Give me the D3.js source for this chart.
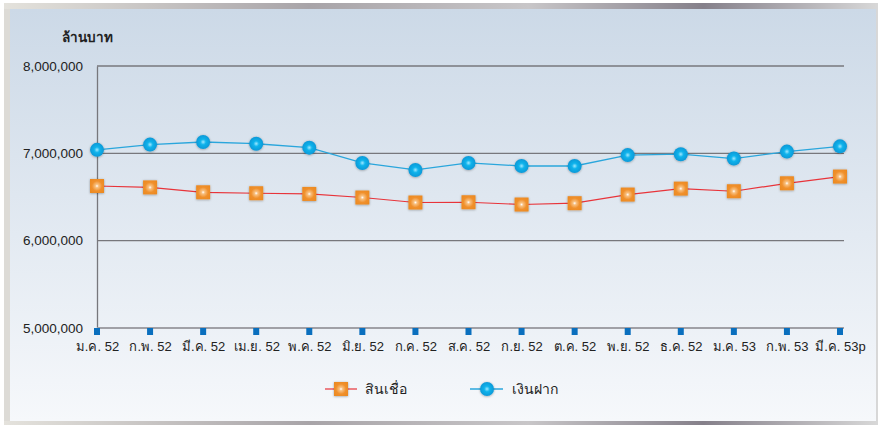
<!DOCTYPE html>
<html>
<head>
<meta charset="utf-8">
<script src="https://cdn.jsdelivr.net/npm/d3@7"></script>
<style>
  body { margin: 0; background: #fff; }
  text { font-family: "Liberation Sans", "Noto Sans", sans-serif; fill: #222; }
</style>
</head>
<body>
<div id="chart"></div>
<script>
var months = ["ม.ค. 52", "ก.พ. 52", "มี.ค. 52", "เม.ย. 52", "พ.ค. 52", "มิ.ย. 52", "ก.ค. 52",
  "ส.ค. 52", "ก.ย. 52", "ต.ค. 52", "พ.ย. 52", "ธ.ค. 52", "ม.ค. 53", "ก.พ. 53", "มี.ค. 53p"];
var credit = [6626000, 6610000, 6554000, 6543000, 6535000, 6494000, 6437000, 6440000,
  6414000, 6429000, 6528000, 6596000, 6566000, 6657000, 6734000];
var deposit = [7040000, 7100000, 7130000, 7110000, 7065000, 6890000, 6810000, 6890000,
  6855000, 6855000, 6980000, 6990000, 6940000, 7020000, 7080000];
var yTicks = [5000000, 6000000, 7000000, 8000000];
var seriesNames = ["สินเชื่อ", "เงินฝาก"];

var W = 878, H = 425;
var margin = {top: 66, left: 97, right: 34, bottom: 97};
var width = W - margin.left - margin.right,
    height = H - margin.top - margin.bottom;

var svg = d3.select("#chart").append("svg")
    .attr("width", W)
    .attr("height", H);

var defs = svg.append("defs");

var frameGrad = defs.append("linearGradient").attr("id", "frame");
frameGrad.append("stop").attr("offset", "0%").attr("stop-color", "#e4e2dc");
frameGrad.append("stop").attr("offset", "35%").attr("stop-color", "#a8a4a8");
frameGrad.append("stop").attr("offset", "60%").attr("stop-color", "#c8c6c8");
frameGrad.append("stop").attr("offset", "80%").attr("stop-color", "#85808a");
frameGrad.append("stop").attr("offset", "100%").attr("stop-color", "#d8d8d8");

var bgGrad = defs.append("linearGradient").attr("id", "bg")
    .attr("x1", 0).attr("y1", 0).attr("x2", 0).attr("y2", 1);
bgGrad.append("stop").attr("offset", "0%").attr("stop-color", "#ccd9e7");
bgGrad.append("stop").attr("offset", "100%").attr("stop-color", "#f6f8fb");

var dotGrad = defs.append("radialGradient").attr("id", "dot")
    .attr("cx", "50%").attr("cy", "50%").attr("r", "55%");
dotGrad.append("stop").attr("offset", "0%").attr("stop-color", "#9fe8ff");
dotGrad.append("stop").attr("offset", "35%").attr("stop-color", "#12b4ec");
dotGrad.append("stop").attr("offset", "100%").attr("stop-color", "#0a94d4");

var sqGrad = defs.append("radialGradient").attr("id", "sq")
    .attr("cx", "50%").attr("cy", "50%").attr("r", "60%");
sqGrad.append("stop").attr("offset", "0%").attr("stop-color", "#ffffff");
sqGrad.append("stop").attr("offset", "20%").attr("stop-color", "#f8c080");
sqGrad.append("stop").attr("offset", "60%").attr("stop-color", "#f0902c");
sqGrad.append("stop").attr("offset", "100%").attr("stop-color", "#ec8a22");

var shadow = defs.append("filter").attr("id", "shadow")
    .attr("x", "-50%").attr("y", "-50%").attr("width", "200%").attr("height", "200%");
shadow.append("feDropShadow").attr("dx", 0).attr("dy", 0.5)
    .attr("stdDeviation", 1.2).attr("flood-color", "#000").attr("flood-opacity", 0.35);

// frame and panel
svg.append("rect").attr("x", 4).attr("y", 3).attr("width", 874).attr("height", 422)
    .attr("fill", "url(#frame)");
svg.append("rect").attr("x", 4).attr("y", 9).attr("width", 6).attr("height", 412)
    .attr("fill", "#dddbd6");
svg.append("rect").attr("x", 10).attr("y", 9).attr("width", 866).attr("height", 412)
    .attr("fill", "url(#bg)");

var g = svg.append("g")
    .attr("transform", "translate(" + margin.left + "," + margin.top + ")");

var x = d3.scalePoint().domain(months).range([0, 743]);
var y = d3.scaleLinear().domain([5000000, 8000000]).range([height, 0]);

// gridlines
g.append("g").selectAll("line")
    .data(yTicks.slice(1))
  .enter().append("line")
    .attr("x1", 0).attr("x2", 747)
    .attr("y1", function(d) { return y(d); })
    .attr("y2", function(d) { return y(d); })
    .attr("stroke", "#77777c").attr("stroke-width", 1.3);

// y axis
var yAxis = d3.axisLeft(y).tickValues(yTicks).tickSize(0).tickPadding(14)
    .tickFormat(d3.format(",")).tickSizeOuter(0);
var ya = g.append("g").call(yAxis);
ya.select(".domain").attr("stroke", "#77777c").attr("stroke-width", 1.3);
ya.selectAll("text").style("font-size", "13.5px").attr("fill", "#222");

// x axis baseline
g.append("line").attr("x1", 0).attr("x2", 747)
    .attr("y1", height).attr("y2", height)
    .attr("stroke", "#a0a0a6").attr("stroke-width", 2);

var xAxis = d3.axisBottom(x).tickSize(0).tickPadding(14).tickSizeOuter(0);
var xa = g.append("g").attr("transform", "translate(0," + height + ")").call(xAxis);
xa.select(".domain").remove();
xa.selectAll("text").style("font-size", "13px").attr("fill", "#222");

// tick marks as blue squares
g.append("g").selectAll("rect")
    .data(months)
  .enter().append("rect")
    .attr("x", function(d) { return x(d) - 3; })
    .attr("y", height)
    .attr("width", 6).attr("height", 7)
    .attr("fill", "#0a6fbe");

// y label
svg.append("text").attr("x", 62).attr("y", 42)
    .style("font-size", "13.5px").style("font-weight", "bold")
    .text("ล้านบาท");

var line = d3.line()
    .x(function(d, i) { return x(months[i]); })
    .y(function(d) { return y(d); });

g.append("path").datum(credit).attr("d", line)
    .attr("fill", "none").attr("stroke", "#e8343a").attr("stroke-width", 1.2);
g.append("path").datum(deposit).attr("d", line)
    .attr("fill", "none").attr("stroke", "#2aa6dc").attr("stroke-width", 1.3);

g.append("g").selectAll("rect")
    .data(credit)
  .enter().append("rect")
    .attr("x", function(d, i) { return x(months[i]) - 7; })
    .attr("y", function(d) { return y(d) - 7; })
    .attr("width", 14).attr("height", 14)
    .attr("fill", "url(#sq)")
    .attr("filter", "url(#shadow)");

g.append("g").selectAll("circle")
    .data(deposit)
  .enter().append("circle")
    .attr("cx", function(d, i) { return x(months[i]); })
    .attr("cy", function(d) { return y(d); })
    .attr("r", 7)
    .attr("fill", "url(#dot)")
    .attr("filter", "url(#shadow)");

// legend
var lg = svg.append("g");
lg.append("line").attr("x1", 325).attr("x2", 357).attr("y1", 389).attr("y2", 389)
    .attr("stroke", "#e8343a").attr("stroke-width", 1.2);
lg.append("rect").attr("x", 334).attr("y", 382).attr("width", 14).attr("height", 14)
    .attr("fill", "url(#sq)").attr("filter", "url(#shadow)");
lg.append("text").attr("x", 365).attr("y", 394).style("font-size", "14px").text(seriesNames[0]);

lg.append("line").attr("x1", 470).attr("x2", 503).attr("y1", 389).attr("y2", 389)
    .attr("stroke", "#2aa6dc").attr("stroke-width", 1.3);
lg.append("circle").attr("cx", 487).attr("cy", 389).attr("r", 7)
    .attr("fill", "url(#dot)").attr("filter", "url(#shadow)");
lg.append("text").attr("x", 512).attr("y", 394).style("font-size", "14px").text(seriesNames[1]);
</script>
</body>
</html>
